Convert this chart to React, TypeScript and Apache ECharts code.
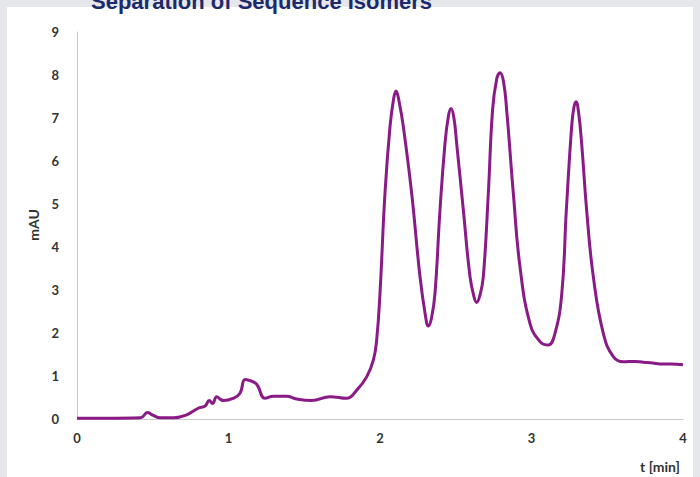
import React, { useEffect, useRef } from "react";
import * as echarts from "echarts";

const titleText = "Separation of Sequence Isomers";
const yAxisName = "mAU";
const xAxisName = "t [min]";
const yTicks = [0, 1, 2, 3, 4, 5, 6, 7, 8, 9];
const xTicks = [0, 1, 2, 3, 4];

const timeMin = [
  0, 0.2, 0.42, 0.465, 0.5, 0.55, 0.64, 0.72, 0.8, 0.845, 0.873, 0.895, 0.922, 0.95, 0.966,
  1.03, 1.076, 1.109, 1.142, 1.186, 1.241, 1.296, 1.384, 1.45, 1.549, 1.67, 1.78, 1.846,
  1.912, 1.956, 1.978, 2.0, 2.033, 2.066, 2.09, 2.106, 2.125, 2.154, 2.209, 2.264, 2.3,
  2.319, 2.34, 2.363, 2.396, 2.429, 2.452, 2.469, 2.488, 2.506, 2.55, 2.594, 2.62, 2.638,
  2.66, 2.682, 2.715, 2.743, 2.77, 2.792, 2.815, 2.836, 2.88, 2.924, 2.99, 3.056, 3.11,
  3.155, 3.2, 3.23, 3.265, 3.28, 3.294, 3.31, 3.331, 3.364, 3.408, 3.474, 3.54, 3.606,
  3.68, 3.738, 3.8, 3.848, 3.92, 4.0,
];
const absorbance = [
  0.02, 0.02, 0.03, 0.15, 0.09, 0.03, 0.03, 0.09, 0.25, 0.3, 0.43, 0.36, 0.52, 0.45, 0.43,
  0.48, 0.6, 0.92, 0.89, 0.81, 0.48, 0.53, 0.53, 0.465, 0.43, 0.52, 0.48, 0.67,
  0.98, 1.37, 1.84, 2.93, 5.26, 6.8, 7.45, 7.63, 7.4, 6.8, 5.25, 3.31, 2.4,
  2.16, 2.35, 2.92, 4.86, 6.41, 7.05, 7.22, 7.0, 6.41, 4.86, 3.31, 2.85, 2.71,
  2.88, 3.31, 5.25, 7.19, 7.9, 8.05, 7.85, 7.19, 5.25, 3.54, 2.22, 1.8, 1.72,
  1.99, 2.92, 4.86, 6.8, 7.25, 7.38, 7.15, 6.41, 4.86, 3.31, 1.99, 1.45, 1.33,
  1.34, 1.32, 1.3, 1.28, 1.28, 1.26,
];

export default function App() {
  const ref = useRef<HTMLDivElement>(null);

  useEffect(() => {
    if (!ref.current) return;
    const chart = echarts.init(ref.current, null, { renderer: "svg" });
    const labelFont = {
      fontFamily: "Lato, 'Open Sans', sans-serif",
      fontWeight: "bold" as const,
      fontSize: 13,
      color: "#333333",
    };
    chart.setOption({
      animation: false,
      backgroundColor: "transparent",
      title: {
        text: titleText,
        left: 86,
        top: -15,
        textStyle: {
          fontFamily: "'Liberation Sans', Arial, sans-serif",
          fontWeight: "bold",
          fontSize: 22,
          color: "#1c2a6c",
        },
      },
      grid: { left: 77, right: 17, top: 32, bottom: 58 },
      xAxis: {
        type: "value",
        min: xTicks[0],
        max: xTicks[xTicks.length - 1],
        interval: 1,
        axisLine: { show: true, lineStyle: { color: "#c9c9c9", width: 1 } },
        axisTick: { show: false },
        splitLine: { show: false },
        axisLabel: { ...labelFont, margin: 12 },
      },
      yAxis: {
        type: "value",
        min: yTicks[0],
        max: yTicks[yTicks.length - 1],
        interval: 1,
        axisLine: { show: true, lineStyle: { color: "#c9c9c9", width: 1 } },
        axisTick: { show: false },
        splitLine: { show: false },
        axisLabel: { ...labelFont, margin: 18 },
      },
      graphic: [
        {
          type: "text",
          x: 660,
          y: 466,
          style: {
            text: xAxisName,
            font: "bold 14px Lato, 'Open Sans', sans-serif",
            fill: "#333333",
            align: "center",
            verticalAlign: "middle",
          },
        },
        {
          type: "text",
          x: 33,
          y: 225,
          rotation: Math.PI / 2,
          style: {
            text: yAxisName,
            font: "bold 14px Lato, 'Open Sans', sans-serif",
            fill: "#333333",
            align: "center",
            verticalAlign: "middle",
          },
        },
      ],
      series: [
        {
          type: "line",
          data: timeMin.map((t, i) => [t, absorbance[i]]),
          showSymbol: false,
          smooth: 0.45,
          lineStyle: { color: "#8a1a86", width: 3 },
        },
      ],
    });
    return () => chart.dispose();
  }, []);

  return (
    <div
      style={{
        position: "absolute",
        left: 0,
        top: 0,
        width: 700,
        height: 477,
        background: "#e6e7eb",
        overflow: "hidden",
      }}
    >
      <div
        style={{
          position: "absolute",
          left: 7,
          top: 7,
          width: 686,
          height: 470,
          background: "#ffffff",
        }}
      />
      <div
        ref={ref}
        style={{ position: "absolute", left: 0, top: 0, width: 700, height: 477 }}
      />
    </div>
  );
}
